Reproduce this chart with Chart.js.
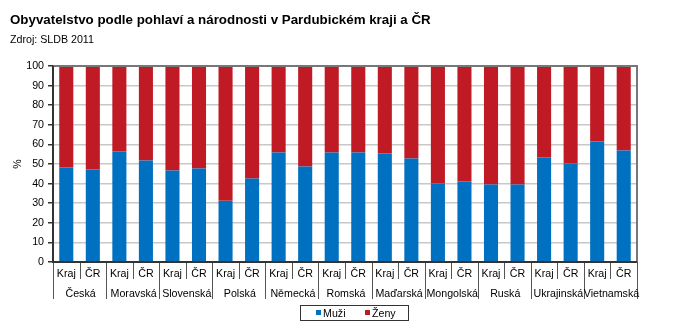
<!DOCTYPE html>
<html lang="cs">
<head>
<meta charset="utf-8">
<title>Obyvatelstvo podle pohlaví a národnosti</title>
<script src="https://cdn.jsdelivr.net/npm/chart.js@4.4.1/dist/chart.umd.min.js"></script>
<style>
  html, body { margin: 0; padding: 0; background: #fff; }
  #wrap { position: relative; width: 679px; height: 336px; font-family: "Liberation Sans", Arial, sans-serif; }
  #title { position: absolute; left: 10px; top: 12.7px; font-size: 13.33px; line-height: 13.33px; font-weight: bold; color: #000; white-space: nowrap; }
  #subtitle { position: absolute; left: 10px; top: 34px; font-size: 10.67px; line-height: 10.67px; color: #000; white-space: nowrap; }
  canvas { position: absolute; left: 0; top: 0; }
</style>
</head>
<body>
<div id="wrap">
  <canvas id="chart" width="679" height="336"></canvas>
  <div id="title">Obyvatelstvo podle pohlaví a národnosti v Pardubickém kraji a ČR</div>
  <div id="subtitle">Zdroj: SLDB 2011</div>
</div>
<script>
// Národnosti (skupiny na ose x) a dvojice sloupců v každé skupině
const narodnosti = ['Česká', 'Moravská', 'Slovenská', 'Polská', 'Německá', 'Romská',
                    'Maďarská', 'Mongolská', 'Ruská', 'Ukrajinská', 'Vietnamská'];
const uzemi = ['Kraj', 'ČR'];

// Podíl mužů a žen (%) – Pardubický kraj
const muziKraj = [48.2, 56.4, 46.7, 31.2, 55.9, 55.9, 55.4, 40.0, 39.5, 53.3, 61.5];
const zenyKraj = [51.8, 43.6, 53.3, 68.8, 44.1, 44.1, 44.6, 60.0, 60.5, 46.7, 38.5];
// Podíl mužů a žen (%) – Česká republika
const muziCR = [47.2, 51.8, 47.7, 42.6, 48.7, 55.9, 52.8, 41.1, 39.5, 50.3, 56.9];
const zenyCR = [52.8, 48.2, 52.3, 57.4, 51.3, 44.1, 47.2, 58.9, 60.5, 49.7, 43.1];

// Popisky osy y
const yTicks = [0, 10, 20, 30, 40, 50, 60, 70, 80, 90, 100];

// Sloupce jdou po dvojicích: Kraj, ČR pro každou národnost
const labels = [];
const muzi = [];
const zeny = [];
narodnosti.forEach((n, i) => {
  labels.push(uzemi[0], uzemi[1]);
  muzi.push(muziKraj[i], muziCR[i]);
  zeny.push(zenyKraj[i], zenyCR[i]);
});

const FONT = '"Liberation Sans", Arial, sans-serif';
const BLUE = '#0070c0';
const RED = '#c01b24';

// Okraje grafu, dvouúrovňové popisky osy x a legenda
const frame = {
  id: 'frame',
  afterDraw(chart) {
    const { ctx, chartArea: a, scales: { x } } = chart;
    const n = labels.length;
    const half = (x.getPixelForValue(1) - x.getPixelForValue(0)) / 2;
    ctx.save();

    // oddělovače pod osou x
    ctx.strokeStyle = '#555';
    ctx.lineWidth = 1;
    for (let i = 0; i <= n; i++) {
      const px = Math.round(i < n ? x.getPixelForValue(i) - half : x.getPixelForValue(n - 1) + half) + 0.5;
      const long = i % 2 === 0;
      ctx.beginPath();
      ctx.moveTo(px, a.bottom);
      ctx.lineTo(px, long ? a.bottom + 37 : a.bottom + 17);
      ctx.stroke();
    }

    // názvy národností
    ctx.fillStyle = '#000';
    ctx.font = '10.67px ' + FONT;
    ctx.textAlign = 'center';
    ctx.textBaseline = 'alphabetic';
    narodnosti.forEach((name, i) => {
      const cx = (x.getPixelForValue(2 * i) + x.getPixelForValue(2 * i + 1)) / 2;
      ctx.fillText(name, cx + 1, a.bottom + 35);
    });

    // rámeček oblasti grafu
    ctx.lineWidth = 2;
    ctx.strokeStyle = '#777';
    ctx.beginPath();
    ctx.moveTo(a.left, a.top);
    ctx.lineTo(a.right, a.top);
    ctx.lineTo(a.right, a.bottom);
    ctx.stroke();
    ctx.strokeStyle = '#333';
    ctx.beginPath();
    ctx.moveTo(a.left, a.top);
    ctx.lineTo(a.left, a.bottom);
    ctx.lineTo(a.right, a.bottom);
    ctx.stroke();

    // legenda
    const lx = 300, ly = 305, lw = 108, lh = 15;
    ctx.lineWidth = 1;
    ctx.strokeStyle = '#333';
    ctx.strokeRect(lx + 0.5, ly + 0.5, lw, lh);
    ctx.textAlign = 'left';
    const items = chart.data.datasets;
    const offs = [16, 65];
    items.forEach((ds, i) => {
      const sx = lx + offs[i];
      ctx.fillStyle = ds.backgroundColor;
      ctx.fillRect(sx, ly + 5, 5, 5);
      ctx.fillStyle = '#000';
      ctx.fillText(ds.label, sx + 7, ly + 12);
    });

    ctx.restore();
  }
};

new Chart(document.getElementById('chart'), {
  type: 'bar',
  data: {
    labels: labels,
    datasets: [
      { label: 'Muži', data: muzi, backgroundColor: BLUE },
      { label: 'Ženy', data: zeny, backgroundColor: RED }
    ]
  },
  options: {
    responsive: false,
    animation: false,
    devicePixelRatio: 1,
    layout: { padding: { top: 66, right: 42, bottom: 0, left: 0 } },
    datasets: { bar: { barPercentage: 0.53, categoryPercentage: 1 } },
    plugins: {
      legend: { display: false },
      title: { display: false },
      tooltip: { enabled: false }
    },
    scales: {
      x: {
        stacked: true,
        offset: true,
        grid: { display: false, drawTicks: false, tickLength: 0 },
        border: { display: false },
        ticks: {
          autoSkip: false,
          maxRotation: 0,
          padding: 6,
          color: '#000',
          font: { family: FONT, size: 10.67 }
        },
        afterFit(scale) { scale.height = 74; }
      },
      y: {
        stacked: true,
        min: 0,
        max: 100,
        afterBuildTicks(scale) { scale.ticks = yTicks.map(v => ({ value: v })); },
        grid: { color: '#c8c8c8', lineWidth: 1.5, tickLength: 5, tickColor: '#333' },
        border: { display: false },
        ticks: {
          padding: 4,
          color: '#000',
          font: { family: FONT, size: 10.67 }
        },
        title: {
          display: true,
          text: '%',
          color: '#000',
          padding: { top: 12, bottom: 0 },
          font: { family: FONT, size: 10.67 }
        },
        afterFit(scale) { scale.width = 53; }
      }
    }
  },
  plugins: [frame]
});
</script>
</body>
</html>
